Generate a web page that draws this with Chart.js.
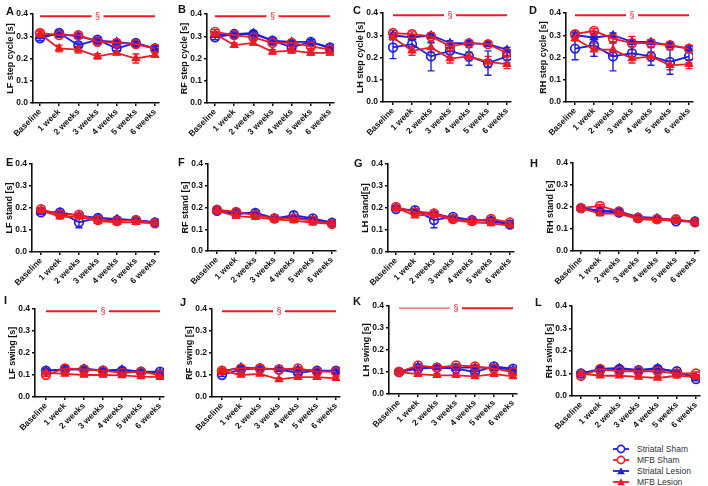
<!DOCTYPE html>
<html lang="en">
<head>
<meta charset="UTF-8">
<title>Gait parameters over time</title>
<script src="https://cdn.jsdelivr.net/npm/chart.js"></script>
<style>
    body { margin: 0; background: #fff; font-family: "Liberation Sans", Arial, sans-serif; }
    #wrap { position: relative; width: 708px; height: 486px; overflow: hidden; }
    .panel { position: absolute; }
    .letter { position: absolute; font-weight: bold; font-size: 11px; line-height: 11px; color: #111; }
    .legend { position: absolute; left: 613px; top: 443px; font-size: 8.5px; color: #333; }
    .legend div { height: 11px; display: flex; align-items: center; }
    .legend svg { margin-right: 8px; }
</style>
</head>
<body>
<div id="wrap">
    <div class="legend">
        <div><svg width="16" height="10"><line x1="0" y1="5" x2="16" y2="5" stroke="#1f1fe0" stroke-width="1.8"/><circle cx="8" cy="5" r="3.6" fill="#fff" stroke="#1f1fe0" stroke-width="1.6"/></svg>Striatal Sham</div>
        <div><svg width="16" height="10"><line x1="0" y1="5" x2="16" y2="5" stroke="#ec1c24" stroke-width="1.8"/><circle cx="8" cy="5" r="3.6" fill="#fff" stroke="#ec1c24" stroke-width="1.6"/></svg>MFB Sham</div>
        <div><svg width="16" height="10"><line x1="0" y1="5" x2="16" y2="5" stroke="#1f1fe0" stroke-width="1.8"/><polygon points="8,1.2 11.8,8.2 4.2,8.2" fill="#1f1fe0"/></svg>Striatal Lesion</div>
        <div><svg width="16" height="10"><line x1="0" y1="5" x2="16" y2="5" stroke="#ec1c24" stroke-width="1.8"/><polygon points="8,1.2 11.8,8.2 4.2,8.2" fill="#ec1c24"/></svg>MFB Lesion</div>
    </div>
</div>

<script>
    // categories and tick labels
    const weeks = ['Baseline', '1 week', '2 weeks', '3 weeks', '4 weeks', '5 weeks', '6 weeks'];
    const yTicks = [0, 0.1, 0.2, 0.3, 0.4];
    const seriesNames = ['Striatal Sham', 'MFB Sham', 'Striatal Lesion', 'MFB Lesion'];

    // step cycle
    const A_ss = [0.29, 0.315, 0.26, 0.285, 0.245, 0.27, 0.245];
    const A_ms = [0.315, 0.305, 0.305, 0.275, 0.27, 0.265, 0.245];
    const A_sl = [0.30, 0.31, 0.30, 0.28, 0.275, 0.265, 0.245];
    const A_ml = [0.31, 0.245, 0.24, 0.21, 0.225, 0.20, 0.215];
    const A_ml_err = [0.015, 0.015, 0.015, 0.012, 0.008, 0.02, 0.01];

    const B_ss = [0.295, 0.31, 0.31, 0.28, 0.25, 0.275, 0.25];
    const B_ms = [0.32, 0.305, 0.295, 0.27, 0.27, 0.255, 0.24];
    const B_sl = [0.305, 0.31, 0.315, 0.28, 0.275, 0.275, 0.245];
    const B_ml = [0.31, 0.26, 0.27, 0.23, 0.235, 0.225, 0.225];

    const C_ss = [0.245, 0.26, 0.205, 0.23, 0.205, 0.175, 0.205];
    const C_ms = [0.31, 0.305, 0.295, 0.25, 0.265, 0.26, 0.22];
    const C_sl = [0.30, 0.29, 0.30, 0.265, 0.265, 0.26, 0.235];
    const C_ml = [0.29, 0.23, 0.245, 0.195, 0.205, 0.18, 0.17];
    const C_ss_err = [0.05, 0.03, 0.065, 0.03, 0.04, 0.055, 0.03];
    const C_ml_err = [0.01, 0.02, 0.02, 0.02, 0.02, 0.025, 0.02];

    const D_ss = [0.24, 0.255, 0.205, 0.22, 0.205, 0.18, 0.205];
    const D_ms = [0.305, 0.32, 0.285, 0.265, 0.265, 0.255, 0.24];
    const D_sl = [0.30, 0.29, 0.30, 0.27, 0.27, 0.255, 0.24];
    const D_ml = [0.285, 0.235, 0.235, 0.195, 0.205, 0.165, 0.17];
    const D_ss_err = [0.05, 0.05, 0.065, 0.03, 0.04, 0.055, 0.03];
    const D_ms_err = [0.01, 0.01, 0.02, 0.03, 0.015, 0.01, 0.01];
    const D_ml_err = [0.01, 0.03, 0.03, 0.02, 0.02, 0.02, 0.02];

    // stand
    const E_ss = [0.18, 0.18, 0.135, 0.155, 0.145, 0.145, 0.135];
    const E_ms = [0.195, 0.17, 0.17, 0.145, 0.14, 0.145, 0.13];
    const E_sl = [0.18, 0.18, 0.165, 0.155, 0.15, 0.145, 0.135];
    const E_ml = [0.19, 0.16, 0.16, 0.14, 0.135, 0.135, 0.13];
    const E_ss_err = [0.008, 0.008, 0.025, 0.008, 0.006, 0.006, 0.006];

    const F_ss = [0.185, 0.175, 0.175, 0.15, 0.165, 0.15, 0.13];
    const F_ms = [0.19, 0.18, 0.165, 0.15, 0.15, 0.14, 0.125];
    const F_sl = [0.185, 0.17, 0.175, 0.15, 0.155, 0.145, 0.13];
    const F_ml = [0.185, 0.16, 0.155, 0.145, 0.14, 0.13, 0.125];
    const F_ss_err = [0.006, 0.006, 0.006, 0.006, 0.015, 0.006, 0.006];

    const G_ss = [0.195, 0.19, 0.145, 0.16, 0.145, 0.14, 0.125];
    const G_ms = [0.205, 0.18, 0.175, 0.15, 0.14, 0.15, 0.135];
    const G_sl = [0.20, 0.185, 0.175, 0.155, 0.145, 0.145, 0.125];
    const G_ml = [0.20, 0.165, 0.17, 0.145, 0.135, 0.13, 0.12];
    const G_ss_err = [0.006, 0.006, 0.035, 0.006, 0.006, 0.006, 0.006];

    const H_ss = [0.195, 0.18, 0.175, 0.15, 0.145, 0.135, 0.135];
    const H_ms = [0.195, 0.205, 0.18, 0.15, 0.145, 0.145, 0.13];
    const H_sl = [0.195, 0.185, 0.18, 0.155, 0.15, 0.14, 0.135];
    const H_ml = [0.195, 0.17, 0.17, 0.145, 0.14, 0.14, 0.13];

    // swing
    const I_ss = [0.12, 0.125, 0.125, 0.12, 0.12, 0.115, 0.115];
    const I_ms = [0.10, 0.13, 0.125, 0.12, 0.11, 0.115, 0.10];
    const I_sl = [0.12, 0.125, 0.13, 0.12, 0.125, 0.115, 0.11];
    const I_ml = [0.11, 0.105, 0.10, 0.10, 0.098, 0.093, 0.09];

    const J_ss = [0.10, 0.125, 0.13, 0.125, 0.11, 0.12, 0.12];
    const J_ms = [0.12, 0.13, 0.13, 0.125, 0.13, 0.115, 0.115];
    const J_sl = [0.115, 0.135, 0.13, 0.125, 0.125, 0.12, 0.115];
    const J_ml = [0.12, 0.10, 0.105, 0.08, 0.09, 0.09, 0.085];

    const K_ss = [0.10, 0.115, 0.12, 0.115, 0.10, 0.125, 0.115];
    const K_ms = [0.10, 0.13, 0.12, 0.13, 0.125, 0.115, 0.10];
    const K_sl = [0.10, 0.125, 0.12, 0.12, 0.12, 0.12, 0.11];
    const K_ml = [0.10, 0.09, 0.085, 0.085, 0.08, 0.09, 0.08];

    const L_ss = [0.10, 0.115, 0.12, 0.115, 0.12, 0.11, 0.075];
    const L_ms = [0.09, 0.12, 0.11, 0.11, 0.11, 0.10, 0.10];
    const L_sl = [0.10, 0.12, 0.125, 0.115, 0.125, 0.105, 0.085];
    const L_ml = [0.10, 0.09, 0.09, 0.085, 0.08, 0.09, 0.085];

    const blue = '#1f1fe0', red = '#ec1c24';
    const styles = [
        { color: blue, pt: 'circle', fill: 'rgba(255,255,255,0)', r: 4.3 },
        { color: red, pt: 'circle', fill: 'rgba(255,255,255,0)', r: 4.3 },
        { color: blue, pt: 'triangle', fill: blue, r: 3.8 },
        { color: red, pt: 'triangle', fill: red, r: 3.8 }
    ];
    // red series drawn on top
    const drawOrder = [1, 3, 0, 2];

    // ax = y-axis x, x0/x6 = first/last category pixel, top/bot = 0.4 / 0 pixel
    const panels = [
        { id: 'A', title: 'LF step cycle [s]', s: [A_ss, A_ms, A_sl, A_ml], err: [null, null, null, A_ml_err], def: 0.01, sect: true, ax: 33, x0: 40, x6: 155, top: 14, bot: 103, lx: 6, ly: 7 },
        { id: 'B', title: 'RF step cycle [s]', s: [B_ss, B_ms, B_sl, B_ml], err: [], def: 0.01, sect: true, ax: 207, x0: 215, x6: 330, top: 14, bot: 103, lx: 178, ly: 5 },
        { id: 'C', title: 'LH step cycle [s]', s: [C_ss, C_ms, C_sl, C_ml], err: [C_ss_err, null, null, C_ml_err], def: 0.01, sect: true, ax: 383, x0: 393, x6: 507, top: 13, bot: 102, lx: 353, ly: 6 },
        { id: 'D', title: 'RH step cycle [s]', s: [D_ss, D_ms, D_sl, D_ml], err: [D_ss_err, D_ms_err, null, D_ml_err], def: 0.01, sect: true, ax: 566, x0: 575, x6: 689, top: 13, bot: 102, lx: 529, ly: 6 },
        { id: 'E', title: 'LF stand [s]', s: [E_ss, E_ms, E_sl, E_ml], err: [E_ss_err], def: 0.007, ax: 32, x0: 41, x6: 155, top: 164, bot: 252, lx: 6, ly: 158 },
        { id: 'F', title: 'RF stand [s]', s: [F_ss, F_ms, F_sl, F_ml], err: [F_ss_err], def: 0.007, ax: 208, x0: 217, x6: 332, top: 164, bot: 251, lx: 178, ly: 158 },
        { id: 'G', title: 'LH stand[s]', s: [G_ss, G_ms, G_sl, G_ml], err: [G_ss_err], def: 0.007, ax: 388, x0: 396, x6: 510, top: 164, bot: 252, lx: 354, ly: 159 },
        { id: 'H', title: 'RH stand [s]', s: [H_ss, H_ms, H_sl, H_ml], err: [], def: 0.007, ax: 573, x0: 581, x6: 695, top: 163, bot: 251, lx: 530, ly: 159 },
        { id: 'I', title: 'LF swing [s]', s: [I_ss, I_ms, I_sl, I_ml], err: [], def: 0.007, sect: true, ax: 35, x0: 46, x6: 160, top: 309, bot: 397, lx: 4, ly: 296 },
        { id: 'J', title: 'RF swing [s]', s: [J_ss, J_ms, J_sl, J_ml], err: [], def: 0.007, sect: true, ax: 212, x0: 222, x6: 336, top: 309, bot: 397, lx: 180, ly: 298 },
        { id: 'K', title: 'LH swing [s]', s: [K_ss, K_ms, K_sl, K_ml], err: [], def: 0.007, sect: true, thinLeft: true, ax: 389, x0: 399, x6: 513, top: 306, bot: 394, lx: 353, ly: 297 },
        { id: 'L', title: 'RH swing [s]', s: [L_ss, L_ms, L_sl, L_ml], err: [], def: 0.007, ax: 572, x0: 581, x6: 696, top: 306, bot: 396, lx: 535, ly: 298 }
    ];

    const errorBars = {
        id: 'errorBars',
        beforeDatasetsDraw(chart) {
            const ctx = chart.ctx, y = chart.scales.y;
            chart.data.datasets.forEach((ds, i) => {
                const meta = chart.getDatasetMeta(i);
                ctx.save();
                ctx.strokeStyle = ds.borderColor;
                ctx.lineWidth = 1.4;
                meta.data.forEach((p, j) => {
                    const v = ds.data[j].y, e = ds.err[j];
                    const y1 = y.getPixelForValue(v + e), y2 = y.getPixelForValue(v - e);
                    ctx.beginPath();
                    ctx.moveTo(p.x, y1); ctx.lineTo(p.x, y2);
                    ctx.moveTo(p.x - 3.5, y1); ctx.lineTo(p.x + 3.5, y1);
                    ctx.moveTo(p.x - 3.5, y2); ctx.lineTo(p.x + 3.5, y2);
                    ctx.stroke();
                });
                ctx.restore();
            });
        }
    };

    // significance bar with the § sign
    const sectLine = {
        id: 'sectLine',
        afterDraw(chart, args, opts) {
            if (!opts.show) return;
            const ctx = chart.ctx, x = chart.scales.x, y = chart.scales.y;
            const xa = x.getPixelForValue(0), xb = x.getPixelForValue(6), yy = y.getPixelForValue(0.39);
            const xm = (xa + xb) / 2;
            ctx.save();
            ctx.strokeStyle = red;
            ctx.lineWidth = opts.thinLeft ? 1.2 : 2;
            ctx.globalAlpha = opts.thinLeft ? 0.7 : 1;
            ctx.beginPath(); ctx.moveTo(xa, yy); ctx.lineTo(xm - 6, yy); ctx.stroke();
            ctx.globalAlpha = 1;
            ctx.lineWidth = 2;
            ctx.beginPath(); ctx.moveTo(xm + 6, yy); ctx.lineTo(xb, yy); ctx.stroke();
            ctx.fillStyle = red;
            ctx.font = '9px "Liberation Sans", Arial';
            ctx.textAlign = 'center';
            ctx.textBaseline = 'middle';
            ctx.fillText('§', xm, yy + 0.5);
            ctx.restore();
        }
    };

    const wrap = document.getElementById('wrap');

    panels.forEach(p => {
        const yw = 28, xh = 50, padTop = 8, padRight = 10;
        const right = p.x6 + 4;
        const left = p.ax - yw;
        const w = right - left + padRight;
        const h = p.bot - p.top + padTop + xh;
        const step = (p.x6 - p.x0) / 6;

        const div = document.createElement('div');
        div.className = 'panel';
        div.style.left = left + 'px';
        div.style.top = (p.top - padTop) + 'px';
        const canvas = document.createElement('canvas');
        canvas.width = w;
        canvas.height = h;
        div.appendChild(canvas);
        wrap.appendChild(div);

        const letter = document.createElement('div');
        letter.className = 'letter';
        letter.textContent = p.id;
        letter.style.left = p.lx + 'px';
        letter.style.top = (p.ly - 1) + 'px';
        wrap.appendChild(letter);

        const datasets = drawOrder.map(k => ({
            label: seriesNames[k],
            data: p.s[k].map((v, i) => ({ x: i, y: v })),
            err: (p.err[k]) || p.s[k].map(() => p.def),
            borderColor: styles[k].color,
            backgroundColor: styles[k].fill,
            pointStyle: styles[k].pt,
            pointRadius: styles[k].r,
            pointBorderWidth: 1.7,
            pointBackgroundColor: styles[k].fill,
            pointBorderColor: styles[k].color,
            borderWidth: 1.8,
            tension: 0
        }));

        const axisGrid = { drawOnChartArea: false, drawTicks: true, tickLength: 3, color: '#111', lineWidth: 1.5 };
        const axisBorder = { color: '#111', width: 1.6 };
        const tickFont = { family: '"Liberation Sans", Arial', size: 8.5, weight: 'bold' };

        new Chart(canvas, {
            type: 'line',
            data: { datasets },
            options: {
                responsive: false,
                devicePixelRatio: 1,
                animation: false,
                layout: { padding: { top: padTop, right: padRight, left: 0, bottom: 0 } },
                plugins: {
                    legend: { display: false },
                    tooltip: { enabled: false },
                    sectLine: { show: !!p.sect, thinLeft: !!p.thinLeft }
                },
                scales: {
                    x: {
                        type: 'linear',
                        min: -(p.x0 - p.ax) / step,
                        max: 6 + (right - p.x6) / step,
                        afterBuildTicks: s => { s.ticks = weeks.map((w, i) => ({ value: i })); },
                        afterFit: s => { s.height = xh; },
                        ticks: {
                            callback: v => weeks[v],
                            minRotation: 45,
                            maxRotation: 45,
                            autoSkip: false,
                            font: tickFont,
                            color: '#111',
                            padding: 1
                        },
                        grid: axisGrid,
                        border: axisBorder
                    },
                    y: {
                        min: 0,
                        max: 0.4,
                        afterBuildTicks: s => { s.ticks = yTicks.map(v => ({ value: v })); },
                        afterFit: s => { s.width = yw; },
                        ticks: {
                            callback: v => v.toFixed(1),
                            font: tickFont,
                            color: '#111',
                            padding: 2
                        },
                        grid: axisGrid,
                        border: axisBorder,
                        title: {
                            display: true,
                            text: p.title,
                            color: '#111',
                            font: { family: '"Liberation Sans", Arial', size: 9, weight: 'bold' },
                            padding: { top: 0, bottom: 2 }
                        }
                    }
                }
            },
            plugins: [errorBars, sectLine]
        });
    });
</script>
</body>
</html>
